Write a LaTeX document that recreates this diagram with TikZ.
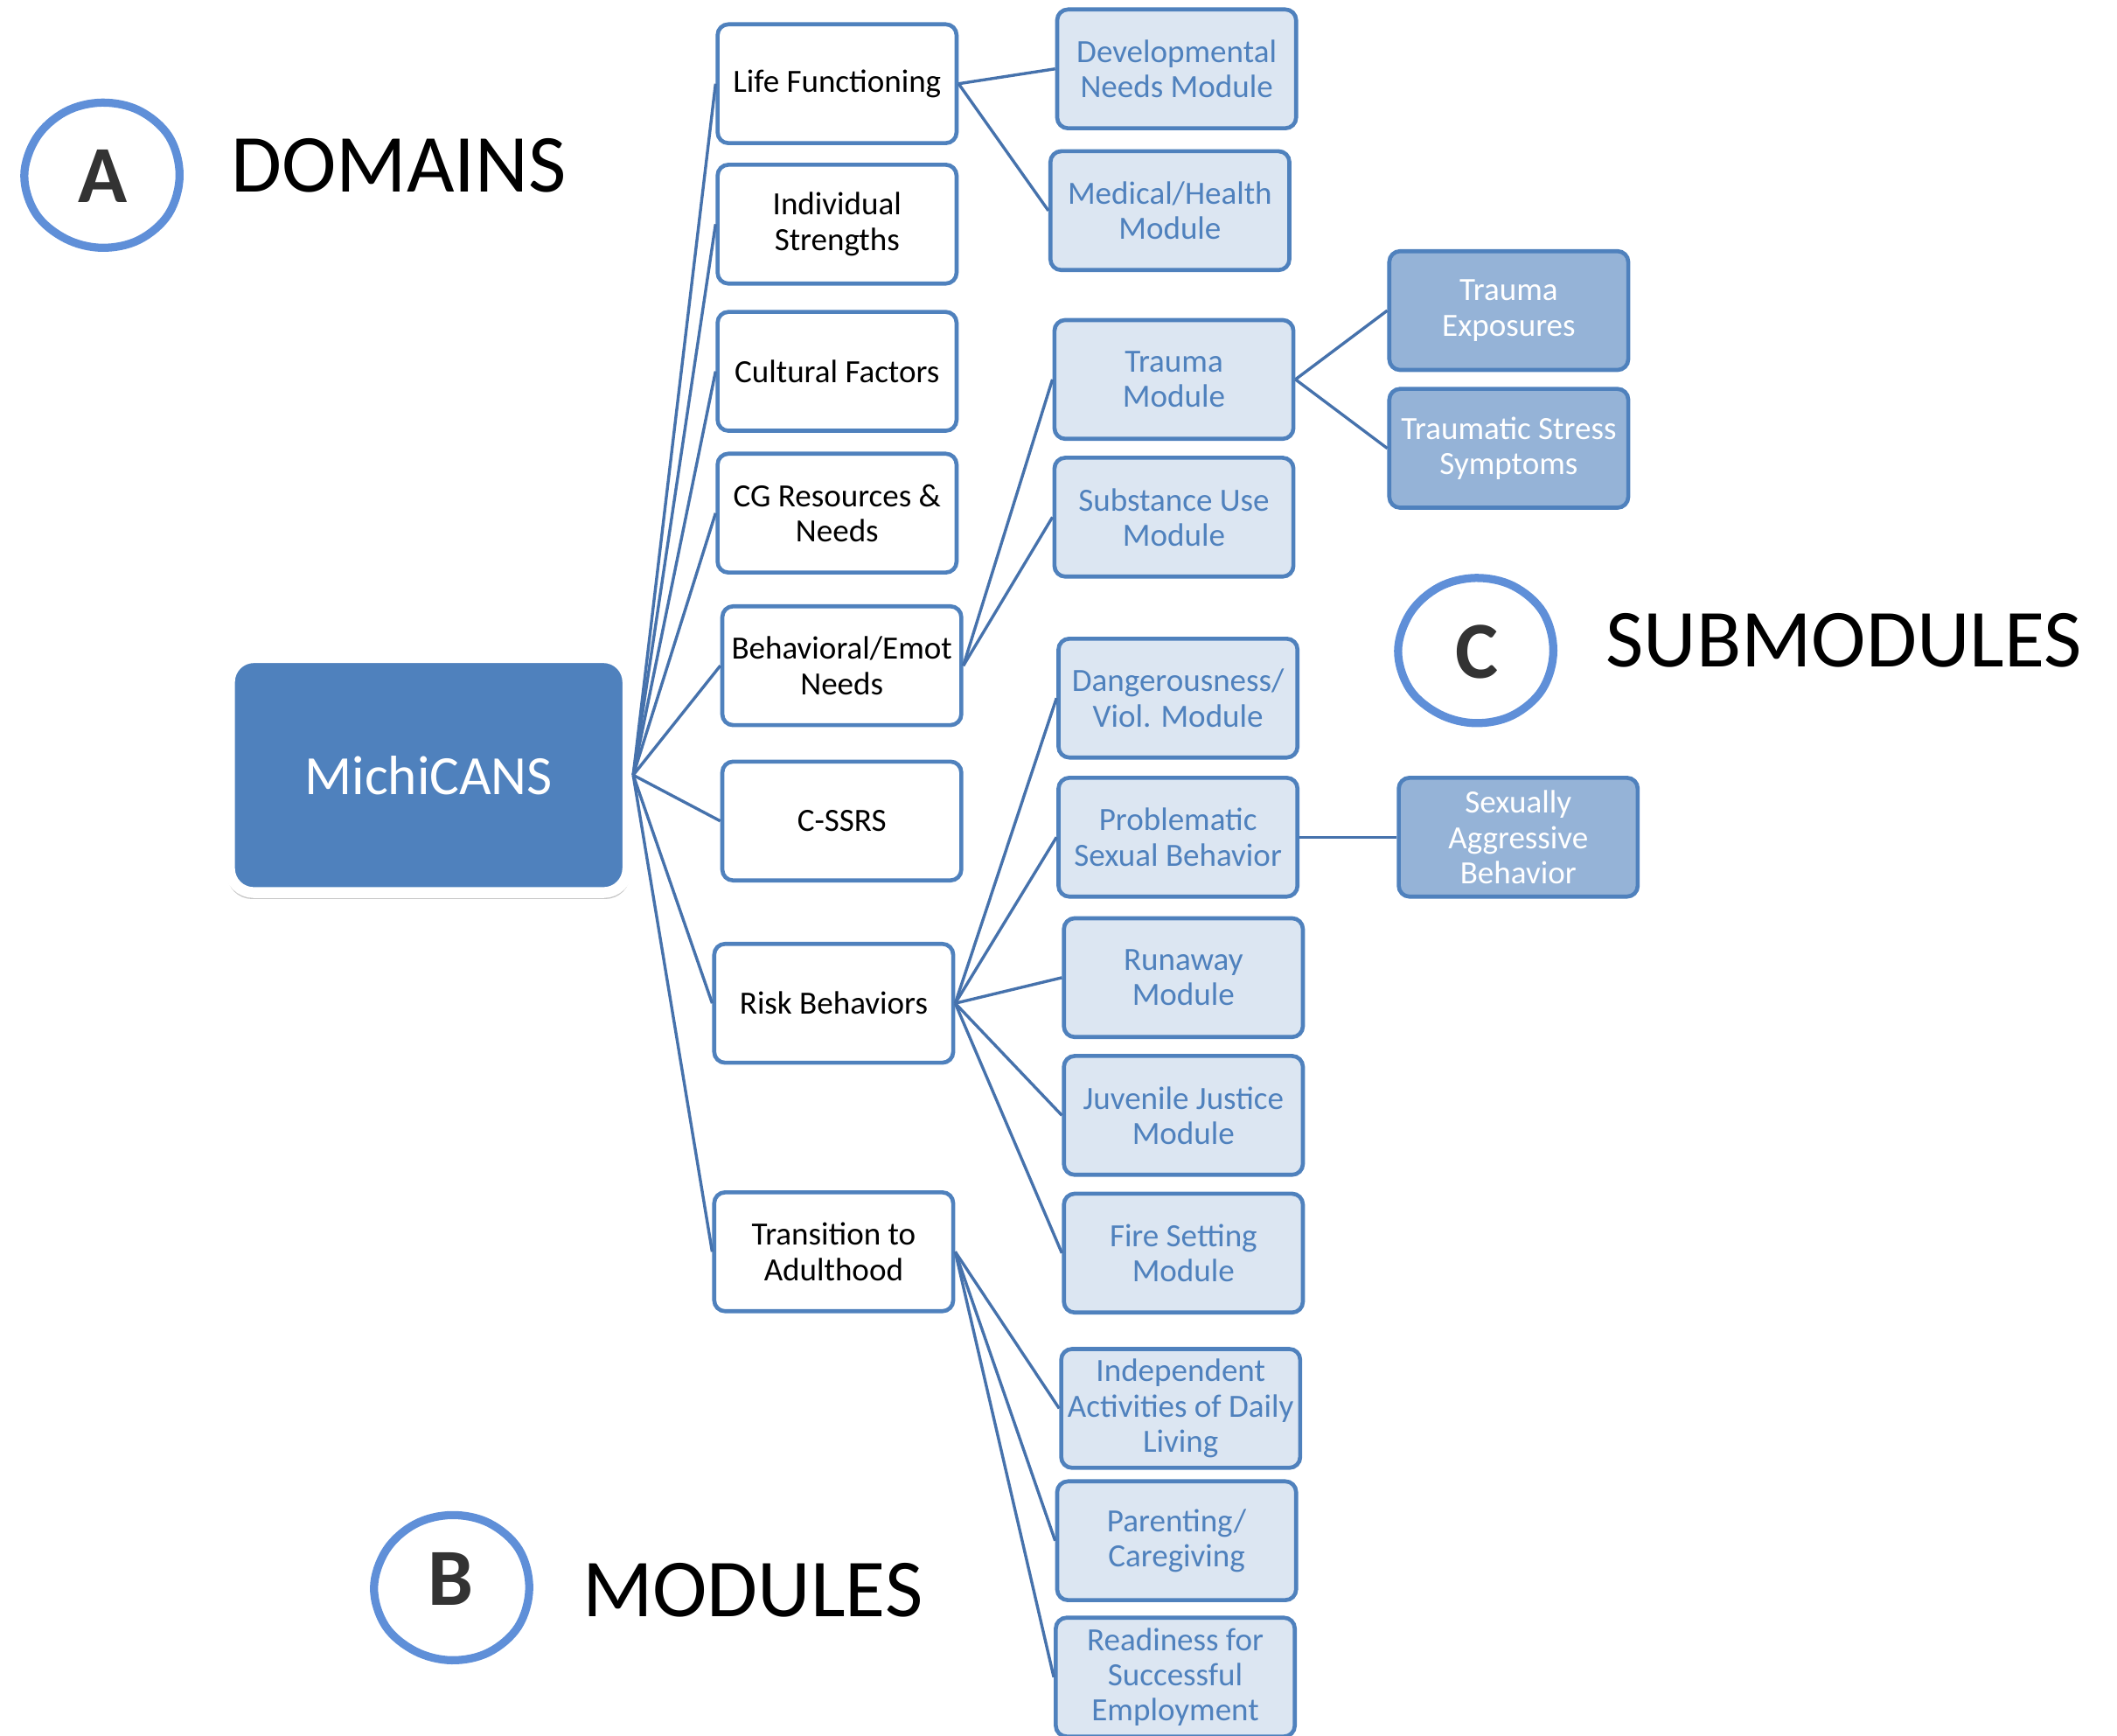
\documentclass[tikz,border=0pt]{standalone}
\usepackage{fontspec}
\setmainfont{Carlito}
\usetikzlibrary{shadows}
\definecolor{acc}{HTML}{4F81BD}
\definecolor{lnk}{HTML}{4672AC}
\definecolor{modfill}{HTML}{DCE6F2}
\definecolor{subfill}{HTML}{95B3D7}
\definecolor{circ}{HTML}{5F8FD8}
\definecolor{letter}{HTML}{333333}
\newcommand{\handring}[2]{%
  \draw[ring, shift={(#1,#2)}] plot[smooth cycle, tension=0.6] coordinates {
    (0:57.5) (30:57) (60:55) (90:53.5) (120:54) (150:56.5)
    (180:57.5) (210:56) (240:54.5) (270:54) (300:55.5) (330:57.5)};}
\begin{document}
\begin{tikzpicture}[x=0.5pt,y=-0.5pt,
 box/.style={rectangle, rounded corners=4pt, line width=1.5pt, draw=acc, minimum width=88.5pt, minimum height=44pt, inner sep=0pt, align=center, font=\fontsize{12}{13}\selectfont},
 dom/.style={box, fill=white, text=black},
 mod/.style={box, fill=modfill, text=acc},
 sub/.style={box, fill=subfill, text=white},
 link/.style={draw=lnk, line width=1.1pt},
 ring/.style={draw=circ, line width=3pt},
 biglabel/.style={font=\fontsize{30.5}{36}\selectfont, text=black, anchor=base west, inner sep=0pt},
 letterlabel/.style={font=\bfseries\fontsize{30}{36}\selectfont, text=letter, inner sep=0pt}
]
\useasboundingbox (0,0) rectangle (1568,1285);

% root
\node[rectangle, draw=white, line width=4pt, fill=acc, rounded corners=9pt,
      minimum width=147.5pt, minimum height=87pt, text=white,
      font=\fontsize{20.5}{24}\selectfont,
      drop shadow={shadow xshift=0pt, shadow yshift=-1.8pt, shadow scale=1.012, opacity=0.22, fill=black}] (mc) at (317.5,574) {MichiCANS};

% domains
\node[dom] (lf) at (620,62) {Life Functioning};
\node[dom] (is) at (620,166) {Individual\\Strengths};
\node[dom] (cf) at (620,275) {Cultural Factors};
\node[dom] (cg) at (620,380) {CG Resources \&\\Needs};
\node[dom] (be) at (623.5,493) {Behavioral/Emot\\Needs};
\node[dom] (cs) at (623.5,608) {C-SSRS};
\node[dom] (rb) at (617.5,743) {Risk Behaviors};
\node[dom] (ta) at (617.5,927) {Transition to\\Adulthood};

% modules
\node[mod] (dn) at (871.5,51) {Developmental\\Needs Module};
\node[mod] (mh) at (866.5,156) {Medical/Health\\Module};
\node[mod] (tm) at (869.5,281) {Trauma\\Module};
\node[mod] (su) at (869.5,383) {Substance Use\\Module};
\node[mod] (dv) at (872.5,517) {Dangerousness/\\Viol. Module};
\node[mod] (ps) at (872.5,620) {Problematic\\Sexual Behavior};
\node[mod] (ru) at (876.5,724) {Runaway\\Module};
\node[mod] (jj) at (876.5,826) {Juvenile Justice\\Module};
\node[mod] (fs) at (876.5,928) {Fire Setting\\Module};
\node[mod] (ia) at (874.5,1043) {Independent\\Activities of Daily\\Living};
\node[mod] (pc) at (871.5,1141) {Parenting/\\Caregiving};
\node[mod] (re) at (870.5,1242) {Readiness for\\Successful\\Employment};

% submodules
\node[sub] (te) at (1117.5,230) {Trauma\\Exposures};
\node[sub] (ts) at (1117.5,332) {Traumatic Stress\\Symptoms};
\node[sub] (sa) at (1124.5,620) {Sexually\\Aggressive\\Behavior};

% connectors
\foreach \d in {lf,is,cf,cg,be,cs,rb,ta} \draw[link] (mc.east) -- (\d.west);
\foreach \m in {dn,mh} \draw[link] (lf.east) -- (\m.west);
\foreach \m in {tm,su} \draw[link] (be.east) -- (\m.west);
\foreach \m in {te,ts} \draw[link] (tm.east) -- (\m.west);
\foreach \m in {dv,ps,ru,jj,fs} \draw[link] (rb.east) -- (\m.west);
\foreach \m in {ia,pc,re} \draw[link] (ta.east) -- (\m.west);
\draw[link] (ps.east) -- (sa.west);

% legend circles and headings
\handring{75.5}{130}
\node[letterlabel] (la) at (76,130.5) {A};
\node[biglabel] (hd) at (171,142) {DOMAINS};

\handring{334.5}{1176}
\node[letterlabel] (lb) at (334,1169) {B};
\node[biglabel] (hm) at (431,1197) {MODULES};

\handring{1093}{482}
\node[letterlabel] (lc) at (1094,482.5) {C};
\node[biglabel] (hs) at (1189,494) {SUBMODULES};
\end{tikzpicture}
\end{document}
